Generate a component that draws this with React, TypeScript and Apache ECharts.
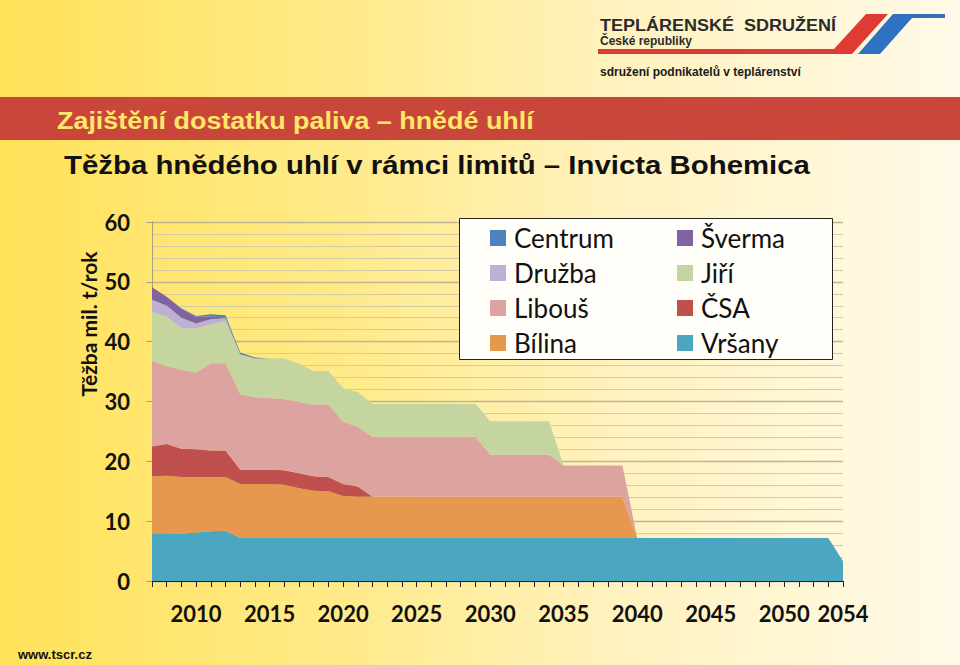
import React, { useEffect, useRef } from "react";
import * as echarts from "echarts";

const years = [
  "2007", "2008", "2009", "2010", "2011", "2012", "2013", "2014", "2015", "2016",
  "2017", "2018", "2019", "2020", "2021", "2022", "2023", "2024", "2025", "2026",
  "2027", "2028", "2029", "2030", "2031", "2032", "2033", "2034", "2035", "2036",
  "2037", "2038", "2039", "2040", "2041", "2042", "2043", "2044", "2045", "2046",
  "2047", "2048", "2049", "2050", "2051", "2052", "2053", "2054",
];

const vrsany = [
  8.0, 8.0, 7.9, 8.1, 8.3, 8.4, 7.2, 7.2, 7.2, 7.2,
  7.2, 7.2, 7.2, 7.2, 7.2, 7.2, 7.2, 7.2, 7.2, 7.2,
  7.2, 7.2, 7.2, 7.2, 7.2, 7.2, 7.2, 7.2, 7.2, 7.2,
  7.2, 7.2, 7.2, 7.2, 7.2, 7.2, 7.2, 7.2, 7.2, 7.2,
  7.2, 7.2, 7.2, 7.2, 7.2, 7.2, 7.2, 3.3,
];
const bilina = [
  9.5, 9.6, 9.5, 9.3, 9.1, 9.0, 9.0, 9.0, 9.0, 8.9,
  8.3, 7.9, 7.8, 7.0, 6.9, 6.9, 6.9, 6.9, 6.9, 6.9,
  6.9, 6.9, 6.9, 6.9, 6.9, 6.9, 6.9, 6.9, 6.9, 6.9,
  6.9, 6.9, 6.9, 0, 0, 0, 0, 0, 0, 0,
  0, 0, 0, 0, 0, 0, 0, 0,
];
const csa = [
  5.0, 5.3, 4.7, 4.6, 4.4, 4.4, 2.4, 2.4, 2.4, 2.4,
  2.5, 2.4, 2.4, 2.0, 1.7, 0, 0, 0, 0, 0,
  0, 0, 0, 0, 0, 0, 0, 0, 0, 0,
  0, 0, 0, 0, 0, 0, 0, 0, 0, 0,
  0, 0, 0, 0, 0, 0, 0, 0,
];
const libous = [
  14.3, 13.0, 13.2, 12.8, 14.6, 14.6, 12.6, 12.1, 12.0, 11.9,
  11.9, 12.0, 12.1, 10.4, 10.0, 10.0, 10.0, 10.0, 10.0, 10.0,
  10.0, 10.0, 10.0, 7.0, 7.0, 7.0, 7.0, 7.0, 5.2, 5.2,
  5.2, 5.2, 5.2, 0, 0, 0, 0, 0, 0, 0,
  0, 0, 0, 0, 0, 0, 0, 0,
];
const jiri = [
  8.2, 8.3, 7.0, 7.4, 6.5, 7.0, 6.7, 6.5, 6.6, 6.8,
  6.4, 5.6, 5.6, 5.6, 5.8, 5.5, 5.5, 5.5, 5.5, 5.5,
  5.5, 5.5, 5.5, 5.6, 5.6, 5.6, 5.6, 5.6, 0, 0,
  0, 0, 0, 0, 0, 0, 0, 0, 0, 0,
  0, 0, 0, 0, 0, 0, 0, 0,
];
const druzba = [
  2.0, 1.8, 1.7, 0.85, 0.85, 0.5, 0, 0, 0, 0,
  0, 0, 0, 0, 0, 0, 0, 0, 0, 0,
  0, 0, 0, 0, 0, 0, 0, 0, 0, 0,
  0, 0, 0, 0, 0, 0, 0, 0, 0, 0,
  0, 0, 0, 0, 0, 0, 0, 0,
];
const sverma = [
  2.1, 1.5, 1.5, 1.1, 0.45, 0.15, 0, 0, 0, 0,
  0, 0, 0, 0, 0, 0, 0, 0, 0, 0,
  0, 0, 0, 0, 0, 0, 0, 0, 0, 0,
  0, 0, 0, 0, 0, 0, 0, 0, 0, 0,
  0, 0, 0, 0, 0, 0, 0, 0,
];
const centrum = [
  0, 0, 0.1, 0.15, 0.4, 0.35, 0.3, 0.15, 0, 0,
  0, 0, 0, 0, 0, 0, 0, 0, 0, 0,
  0, 0, 0, 0, 0, 0, 0, 0, 0, 0,
  0, 0, 0, 0, 0, 0, 0, 0, 0, 0,
  0, 0, 0, 0, 0, 0, 0, 0,
];

const seriesDefs = [
  { name: "Vršany", data: vrsany, color: "#4BA6C2" },
  { name: "Bílina", data: bilina, color: "#E5984E" },
  { name: "ČSA", data: csa, color: "#C0504D" },
  { name: "Libouš", data: libous, color: "#DCA3A1" },
  { name: "Jiří", data: jiri, color: "#C4D5A0" },
  { name: "Družba", data: druzba, color: "#BEB0D4" },
  { name: "Šverma", data: sverma, color: "#8064A2" },
  { name: "Centrum", data: centrum, color: "#4F81BD" },
];

const legendLeft = ["Centrum", "Družba", "Libouš", "Bílina"];
const legendRight = ["Šverma", "Jiří", "ČSA", "Vršany"];

const yTicks = { min: 0, max: 60, interval: 10 };

export default function App() {
  const ref = useRef<HTMLDivElement>(null);

  useEffect(() => {
    if (!ref.current) return;
    const chart = echarts.init(ref.current, undefined, { renderer: "svg" });

    const legendCommon = {
      orient: "vertical",
      top: 223,
      padding: 0,
      itemWidth: 16,
      itemHeight: 16,
      itemGap: 5,
      icon: "rect",
      selectedMode: false,
      textStyle: {
        fontFamily: "Lato",
        fontSize: 26,
        color: "#111",
        lineHeight: 30,
        padding: [0, 0, 0, 3],
      },
      z: 5,
    };

    chart.setOption({
      animation: false,
      backgroundColor: "transparent",
      grid: { left: 152, top: 222, width: 691, height: 359 },
      legend: [
        { ...legendCommon, left: 490, data: legendLeft },
        { ...legendCommon, left: 677, data: legendRight },
      ],
      xAxis: {
        type: "category",
        data: years,
        boundaryGap: false,
        axisLine: { show: true, lineStyle: { color: "#222", width: 1 } },
        axisTick: { show: true, interval: 0, length: 6, lineStyle: { color: "#222" } },
        axisLabel: {
          interval: (_i: number, v: string) => v === "2054" || Number(v) % 5 === 0,
          fontFamily: "Lato",
          fontWeight: "bold",
          fontSize: 22,
          color: "#111",
          margin: 21,
        },
        splitLine: { show: false },
      },
      yAxis: {
        type: "value",
        min: yTicks.min,
        max: yTicks.max,
        interval: yTicks.interval,
        axisLine: { show: true, lineStyle: { color: "#a89f80" } },
        axisTick: { show: true, length: 6, lineStyle: { color: "#a89f80" } },
        axisLabel: {
          fontFamily: "Lato",
          fontWeight: "bold",
          fontSize: 22,
          color: "#111",
          margin: 22,
        },
        splitLine: { show: true, lineStyle: { color: "#bfb592", width: 1.3 } },
        minorTick: { show: false, splitNumber: 5 },
        minorSplitLine: { show: true, lineStyle: { color: "#d3caa6", width: 1.1 } },
      },
      series: seriesDefs.map((s) => ({
        name: s.name,
        type: "line",
        stack: "total",
        data: s.data,
        symbol: "none",
        showSymbol: false,
        lineStyle: { width: 0, color: s.color },
        itemStyle: { color: s.color },
        areaStyle: { color: s.color, opacity: 1 },
        emphasis: { disabled: true },
      })),
      graphic: [
        {
          type: "rect",
          z: 0,
          shape: { x: 0, y: 97, width: 960, height: 43 },
          style: { fill: "#C9473A" },
        },
        {
          type: "text",
          x: 57,
          y: 121,
          scaleX: 1.17,
          style: {
            text: "Zajištění dostatku paliva – hnědé uhlí",
            font: "bold 23px 'Liberation Sans', Arial, sans-serif",
            fill: "#FFE76A",
            textAlign: "left",
            textVerticalAlign: "middle",
          },
        },
        {
          type: "text",
          x: 64,
          y: 165,
          scaleX: 1.13,
          style: {
            text: "Těžba hnědého uhlí v rámci limitů – Invicta Bohemica",
            font: "bold 26px 'Liberation Sans', Arial, sans-serif",
            fill: "#111",
            textAlign: "left",
            textVerticalAlign: "middle",
          },
        },
        {
          type: "polygon",
          shape: {
            points: [[598, 49], [834, 49], [866, 14], [888, 14], [852, 54], [598, 54]],
          },
          style: { fill: "#E03A35" },
        },
        {
          type: "polygon",
          shape: {
            points: [[858, 54], [893, 14], [945, 14], [945, 18], [912, 18], [880, 54]],
          },
          style: { fill: "#2F72C2" },
        },
        {
          type: "text",
          x: 600,
          y: 25,
          scaleX: 1.06,
          style: {
            text: "TEPLÁRENSKÉ  SDRUŽENÍ",
            font: "bold 17px 'Liberation Sans', Arial, sans-serif",
            fill: "#2b2b2b",
            textAlign: "left",
            textVerticalAlign: "middle",
          },
        },
        {
          type: "text",
          x: 600,
          y: 41,
          style: {
            text: "České republiky",
            font: "bold 12px 'Liberation Sans', Arial, sans-serif",
            fill: "#2b2b2b",
            textAlign: "left",
            textVerticalAlign: "middle",
          },
        },
        {
          type: "text",
          x: 600,
          y: 72,
          style: {
            text: "sdružení podnikatelů v teplárenství",
            font: "bold 12px 'Liberation Sans', Arial, sans-serif",
            fill: "#1a1a1a",
            textAlign: "left",
            textVerticalAlign: "middle",
          },
        },
        {
          type: "text",
          x: 18,
          y: 654,
          style: {
            text: "www.tscr.cz",
            font: "bold 13px 'Liberation Sans', Arial, sans-serif",
            fill: "#111",
            textAlign: "left",
            textVerticalAlign: "middle",
          },
        },
        {
          type: "text",
          x: 88,
          y: 324,
          rotation: Math.PI / 2,
          style: {
            text: "Těžba mil. t/rok",
            font: "bold 21px Lato, sans-serif",
            fill: "#111",
            textAlign: "center",
            textVerticalAlign: "middle",
          },
        },
        {
          type: "rect",
          z: 3,
          shape: { x: 459.5, y: 218.5, width: 373, height: 141 },
          style: { fill: "#FFFEF8", stroke: "#222", lineWidth: 1 },
        },
      ],
    });

    return () => chart.dispose();
  }, []);

  return (
    <div
      ref={ref}
      style={{
        position: "fixed",
        left: 0,
        top: 0,
        width: 960,
        height: 665,
        background:
          "linear-gradient(90deg, #FFE259 0%, #FFEA88 35%, #FFF2C0 65%, #FFFAE8 100%)",
      }}
    />
  );
}
